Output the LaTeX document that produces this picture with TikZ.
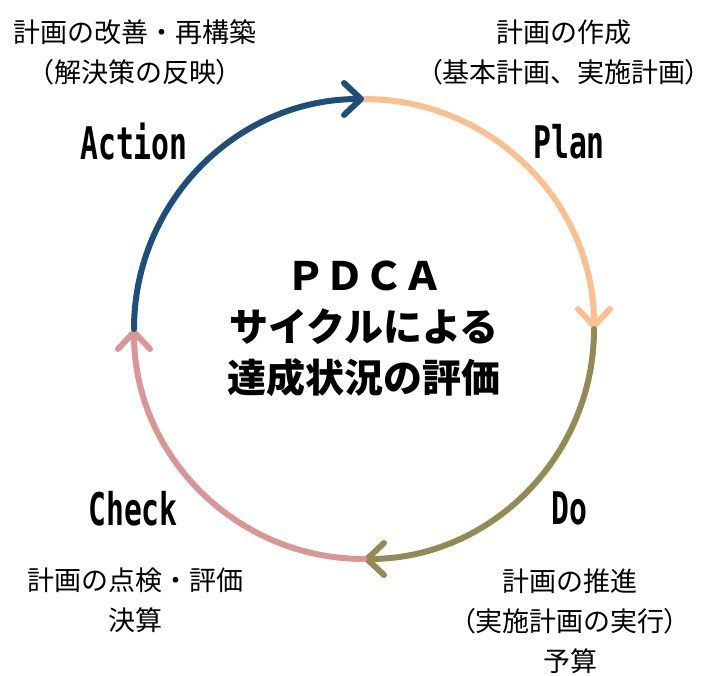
\documentclass[tikz,border=0pt]{standalone}
\usepackage{fontspec}
\setmainfont{Noto Sans CJK JP}
\newfontfamily\phasefont{DejaVu Sans Mono}
\usetikzlibrary{arrows.meta}
\definecolor{planorange}{RGB}{250,192,144}
\definecolor{doolive}{RGB}{148,138,84}
\definecolor{checkpink}{RGB}{217,150,148}
\definecolor{actblue}{RGB}{31,78,121}
% half-width brackets, as in the reference
\newcommand{\lpar}{{\addfontfeature{RawFeature=+palt}（}}
\newcommand{\rpar}{{\addfontfeature{RawFeature=+palt}）}}

\begin{document}
\begin{tikzpicture}
	[x=1pt, y=1pt,
	 cyclearc/.style={line width=6pt, line cap=round, -{Straight Barb[length=17pt,width=32pt,round]}},
	 phase/.style={font=\phasefont\bfseries\fontsize{45}{45}\selectfont, xscale=0.66},
	 note/.style={font=\fontsize{27}{40}\selectfont, align=center, inner sep=0pt},
	 title/.style={font=\bfseries\fontsize{39}{51}\selectfont, align=center}]
   \useasboundingbox (0,0) rectangle (708,675);
   \coordinate (ctr) at (364,346);
   \coordinate (top) at (364,576);
   \coordinate (rgt) at (594,346);
   \coordinate (bot) at (364,116);
   \coordinate (lft) at (134,346);

   \draw[cyclearc, planorange] (top) arc[start angle=90, end angle=0, radius=230];
   \draw[cyclearc, doolive] (rgt) arc[start angle=0, end angle=-90, radius=230];
   \draw[cyclearc, checkpink] (bot) arc[start angle=-90, end angle=-180, radius=230];
   \draw[cyclearc, actblue] (lft) arc[start angle=180, end angle=90, radius=230];

   \node[title] (pdca) at (ctr) {ＰＤＣＡ\\サイクルによる\\達成状況の評価};

   \node[phase] (plan) at (569,533) {Plan};
   \node[phase] (do) at (569,167) {Do};
   \node[phase] (check) at (133,166) {Check};
   \node[phase] (act) at (134,533) {Action};

   \node[note] (planNote) at (564,623) {計画の作成\\\lpar 基本計画、実施計画\rpar};
   \node[note] (doNote) at (570,54) {計画の推進\\\lpar 実施計画の実行\rpar\\予算};
   \node[note] (checkNote) at (135,75) {計画の点検・評価\\決算};
   \node[note] (actNote) at (135,623) {計画の改善・再構築\\\lpar 解決策の反映\rpar};
\end{tikzpicture}
\end{document}
